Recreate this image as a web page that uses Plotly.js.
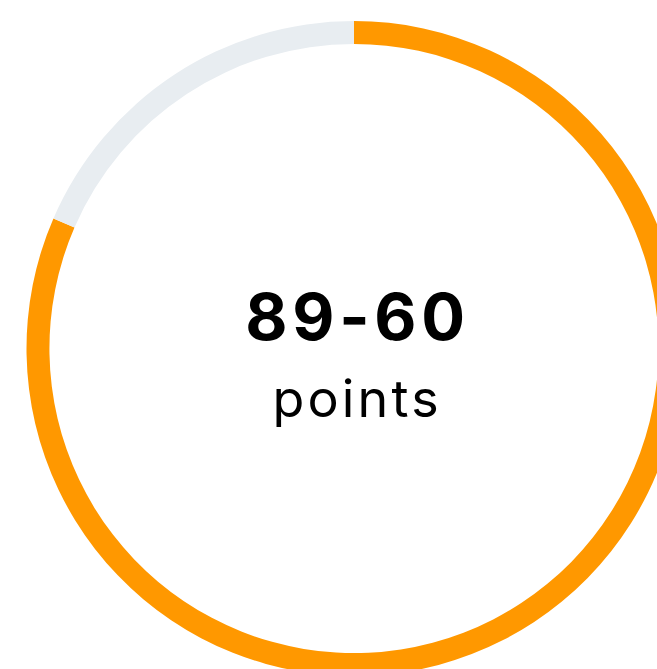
<!DOCTYPE html>
<html>
<head>
<meta charset="utf-8">
<script src="https://cdn.plot.ly/plotly-3.0.1.min.js"></script>
<style>
html, body { margin: 0; padding: 0; overflow: hidden; background: #fff; }
#chart { width: 708px; height: 697px; }
g.annotation[data-index="0"] text { letter-spacing: 4.75px; }
g.annotation[data-index="1"] text { letter-spacing: 3.2px; }
</style>
</head>
<body>
<div id="chart"></div>
<script>
const labels = ["Scored", "Remaining"];
const values = [81.5, 18.5];
const colors = ["#ff9800", "#e8edf1"];
const mainText = "89-60";
const subText = "points";

const data = [{
  type: "pie",
  labels: labels,
  values: values,
  hole: 0.93,
  sort: false,
  direction: "clockwise",
  rotation: 0,
  textinfo: "none",
  hoverinfo: "none",
  marker: { colors: colors, line: { width: 0 } },
  showlegend: false
}];

const layout = {
  width: 708,
  height: 697,
  margin: { l: 26, r: 26, t: 20.5, b: 20.5, pad: 0 },
  paper_bgcolor: "#ffffff",
  plot_bgcolor: "#ffffff",
  showlegend: false,
  annotations: [
    {
      text: "<b>" + mainText + "</b>",
      x: 0.5, y: 0.5496, xref: "paper", yref: "paper",
      xanchor: "center", yanchor: "middle",
      xshift: 3.4,
      showarrow: false,
      font: { family: "Inter, 'Liberation Sans', sans-serif", size: 65, color: "#000000" }
    },
    {
      text: subText,
      x: 0.5, y: 0.424, xref: "paper", yref: "paper",
      xanchor: "center", yanchor: "middle",
      xshift: 3.4,
      showarrow: false,
      font: { family: "Inter, 'Liberation Sans', sans-serif", size: 52, color: "#000000" }
    }
  ]
};

Plotly.newPlot("chart", data, layout, { displayModeBar: false, staticPlot: true });
</script>
</body>
</html>
